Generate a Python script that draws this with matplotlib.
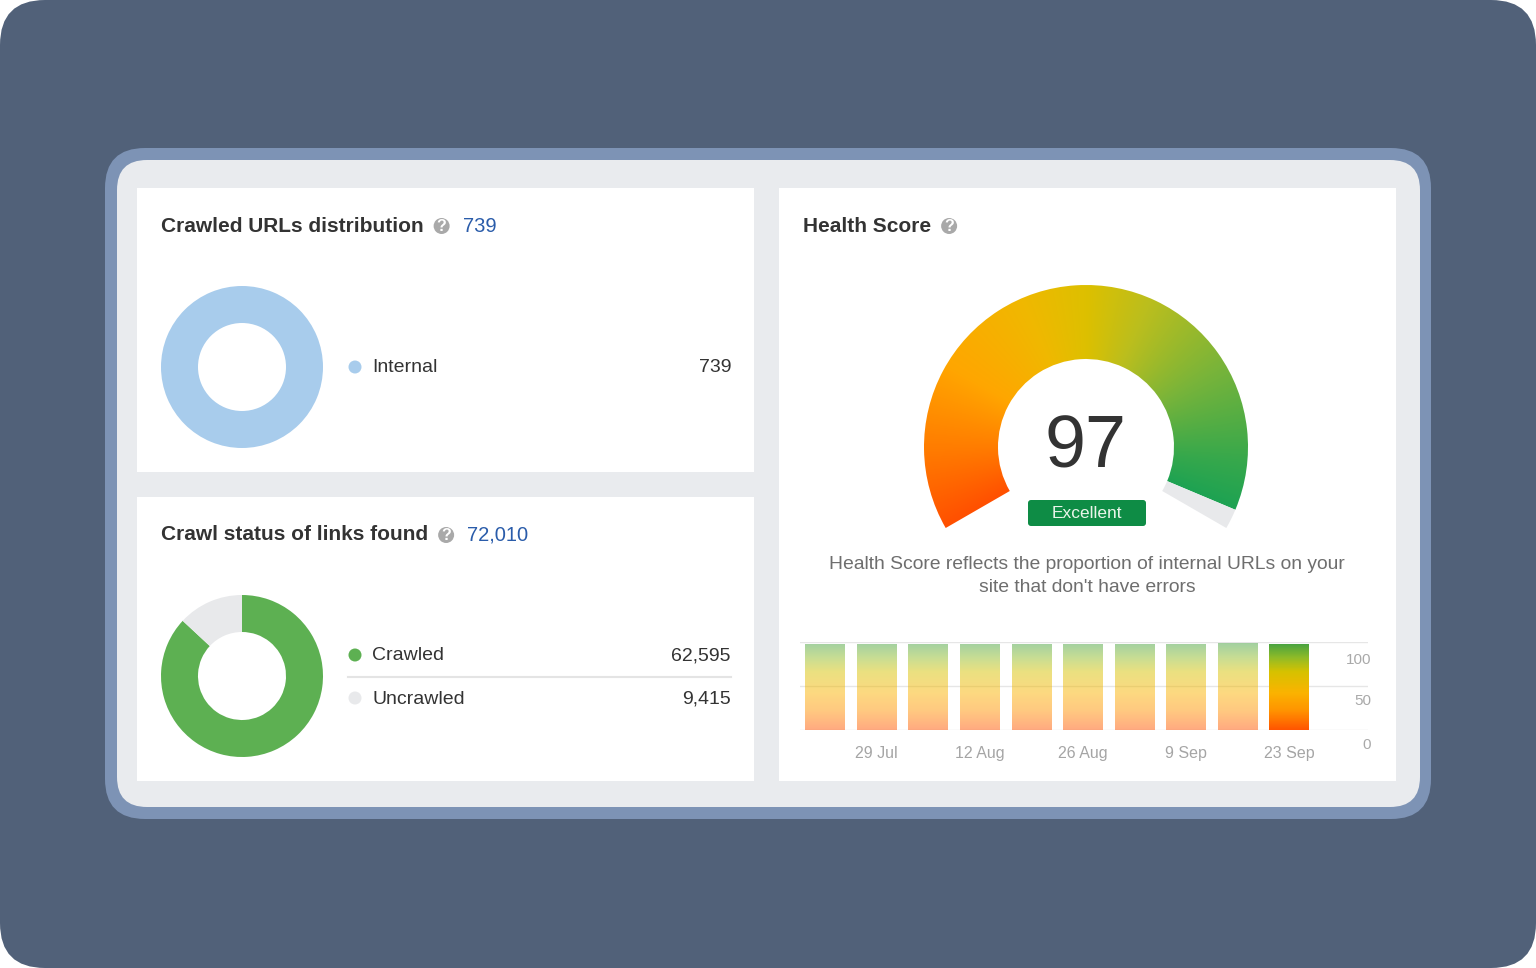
import numpy as np
import matplotlib
matplotlib.use("Agg")
import matplotlib.pyplot as plt
from matplotlib.patches import FancyBboxPatch, Circle, Wedge
from matplotlib.colors import LinearSegmentedColormap
from matplotlib.transforms import ScaledTranslation, blended_transform_factory

plt.rcParams['font.family'] = ['Liberation Sans', 'DejaVu Sans']

# ---------------- data ----------------
urls_title = "Crawled URLs distribution"
urls_total = "739"
urls_labels = ["Internal"]
urls_values = [739]
urls_colors = ["#A8CCEC"]

links_title = "Crawl status of links found"
links_total = "72,010"
links_labels = ["Crawled", "Uncrawled"]
links_values = [62595, 9415]
links_colors = ["#5DB052", "#E8E9EB"]

health_title = "Health Score"
health_score = 97
health_rating = "Excellent"
health_note = "Health Score reflects the proportion of internal URLs on your\nsite that don't have errors"

hist_dates = ["22 Jul", "29 Jul", "5 Aug", "12 Aug", "19 Aug", "26 Aug", "2 Sep", "9 Sep", "16 Sep", "23 Sep"]
hist_scores = [97, 97, 97, 97, 97, 97, 97, 97, 98, 97]
hist_yticks = [0, 50, 100]

W, H = 1536, 968
fig = plt.figure(figsize=(W / 100, H / 100), dpi=100, facecolor="white")

# ---------------- background / frames ----------------
bg = fig.add_axes([0, 0, 1, 1])
bg.set_xlim(0, W)
bg.set_ylim(H, 0)
bg.axis("off")

def rbox(x, y, w, h, r, fc, z=1):
    bg.add_patch(FancyBboxPatch((x, y), w, h, boxstyle=f"round,pad=0,rounding_size={r}",
                                fc=fc, ec="none", zorder=z))

rbox(0, 0, W, H, 45, "#516179", 0)
rbox(105, 148, 1326, 671, 40, "#7D93B5", 1)
rbox(117, 160, 1303, 647, 30, "#E9EBEE", 2)
rbox(137, 188, 617, 284, 0.1, "white", 3)
rbox(137, 497, 617, 284, 0.1, "white", 3)
rbox(779, 188, 617, 593, 0.1, "white", 3)

TITLE_C = "#333333"
BLUE = "#2A5CAA"
TXT = "#333333"

def qicon(x, y):
    bg.add_patch(Circle((x, y), 8, fc="#A9A9A9", ec="none", zorder=5))
    bg.text(x, y + 0.5, "?", ha="center", va="center", color="white", fontsize=11.5,
            fontweight="bold", zorder=6)

def title(x, y, s, total=None):
    t = bg.text(x, y, s, ha="left", va="center", fontsize=15, fontweight="bold",
                color=TITLE_C, zorder=5)
    fig.canvas.draw()
    bb = t.get_window_extent()
    xe = bb.x1  # pixels == data units
    qicon(xe + 18, y)
    if total is not None:
        bg.text(xe + 39, y, total, ha="left", va="center", fontsize=14.5, color=BLUE, zorder=5)

title(161, 226, urls_title, urls_total)
title(161, 535, links_title, links_total)
title(803, 226, health_title)

# ---------------- donuts ----------------
def donut(cx, cy, values, colors, labels, leg_y):
    R = 81
    ax = fig.add_axes([(cx - R) / W, 1 - (cy + R) / H, 2 * R / W, 2 * R / H])
    ax.pie(values, colors=colors, radius=1, startangle=90, counterclock=False,
           wedgeprops=dict(width=1 - 44 / 81, linewidth=0))
    ax.set_xlim(-1, 1)
    ax.set_ylim(-1, 1)
    ax.axis("off")
    for i, (lab, val, col) in enumerate(zip(labels, values, colors)):
        y = leg_y[i]
        bg.add_patch(Circle((355, y), 6.5, fc=col, ec="none", zorder=5))
        bg.text(372, y + 1, lab, ha="left", va="center", fontsize=14, color=TXT, zorder=5)
        bg.text(731, y + 1, f"{val:,}", ha="right", va="center", fontsize=14, color=TXT, zorder=5)
        if i < len(labels) - 1:
            bg.plot([348, 731], [(y + leg_y[i + 1]) / 2] * 2, color="#E4E4E4", lw=1.5, zorder=4)

donut(242, 367, urls_values, urls_colors, urls_labels, [367])
donut(242, 676, links_values, links_colors, links_labels, [655, 698])

# ---------------- gauge ----------------
gcx, gcy, gR = 1086, 447, 162
lim = 1.05
gax = fig.add_axes([(gcx - lim * gR) / W, 1 - (gcy + lim * gR) / H, 2 * lim * gR / W, 2 * lim * gR / H])
gax.set_xlim(-lim, lim)
gax.set_ylim(-lim, lim)
gax.axis("off")

start_ang, sweep = 210.0, 240.0
end_ang = start_ang - sweep * health_score / 100.0
width = 1 - 88 / 162

gauge_cmap = LinearSegmentedColormap.from_list("gauge", [
    (0.0, "#FF5000"), (0.12, "#FF7C00"), (0.25, "#FFA600"), (0.40, "#F0B800"),
    (0.50, "#DDC000"), (0.60, "#BABE1E"), (0.75, "#78B43A"), (0.90, "#36A84C"),
    (1.0, "#14A055")])

n = 700
xs = np.linspace(-lim, lim, n)
X, Y = np.meshgrid(xs, xs)
ang = np.degrees(np.arctan2(Y, X))
ang = np.where(ang < -90, ang + 360, ang)
tt = np.clip((start_ang - ang) / sweep, 0, 1)
wedge = Wedge((0, 0), 1, end_ang, start_ang, width=width, fc="none", ec="none")
gax.add_patch(wedge)
im = gax.imshow(tt, extent=(-lim, lim, -lim, lim), origin="lower", cmap=gauge_cmap,
                vmin=0, vmax=1, interpolation="bilinear", zorder=2)
im.set_clip_path(wedge)
gax.add_patch(Wedge((0, 0), 1, start_ang - sweep, end_ang, width=width, fc="#E8E9EB",
                    ec="none", zorder=2))
gax.set_xlim(-lim, lim)
gax.set_ylim(-lim, lim)
gax.text(0, -0.005, str(health_score), ha="center", va="center", fontsize=53, color="#333333", zorder=5)

rbox(1028, 500, 118, 26, 3, "#0E8C45", 5)
bg.text(1087, 514, health_rating, ha="center", va="center", fontsize=12.5, color="#EAF5EA", zorder=6)

bg.text(1087, 576, health_note, ha="center", va="center", fontsize=13.9, color="#6E6E6E",
        linespacing=1.45, zorder=5)

# ---------------- history bars ----------------
bax = fig.add_axes([800 / W, 1 - 730 / H, 568 / W, 88 / H])
bax.set_facecolor("none")
x = np.arange(len(hist_scores))
bars = bax.bar(x, hist_scores, width=0.76, color="none", edgecolor="none", zorder=1)

bar_cmap = LinearSegmentedColormap.from_list("bars", [
    (0.0, "#FF5500"), (0.22, "#FF9400"), (0.42, "#FBB300"), (0.66, "#D6C200"),
    (0.82, "#90BB28"), (1.0, "#3C9F44")])
for i, r in enumerate(bars):
    x0, w, h = r.get_x(), r.get_width(), r.get_height()
    grad = np.linspace(0, h / 100.0, 256).reshape(-1, 1)
    bax.imshow(grad, extent=(x0, x0 + w, 0, h), origin="lower", aspect="auto", cmap=bar_cmap,
               vmin=0, vmax=1, alpha=1.0 if i == len(bars) - 1 else 0.5, zorder=2)

bax.set_xlim(-0.48, 10.53)
bax.set_ylim(0, 100)
for s in bax.spines.values():
    s.set_visible(False)
bax.set_yticks([])
for v in hist_yticks:
    bax.axhline(v, color="#E6E6E6", lw=1, zorder=0)
trans = blended_transform_factory(bax.transAxes, bax.transData) + ScaledTranslation(0, -15 / 100, fig.dpi_scale_trans)
for v, lab_y_extra in zip(hist_yticks, [0, 0, -3]):
    bax.text(1.0 + 3 / 568, v, str(v), transform=trans + ScaledTranslation(0, lab_y_extra / 100, fig.dpi_scale_trans),
             ha="right", va="center", fontsize=11, color="#A9A9A9")
bax.set_xticks(x[1::2])
bax.set_xticklabels(hist_dates[1::2], fontsize=11.5, color="#A5A5A5")
bax.tick_params(axis="x", length=0, pad=11.5)

fig.savefig("out.png", dpi=100, facecolor="white")
